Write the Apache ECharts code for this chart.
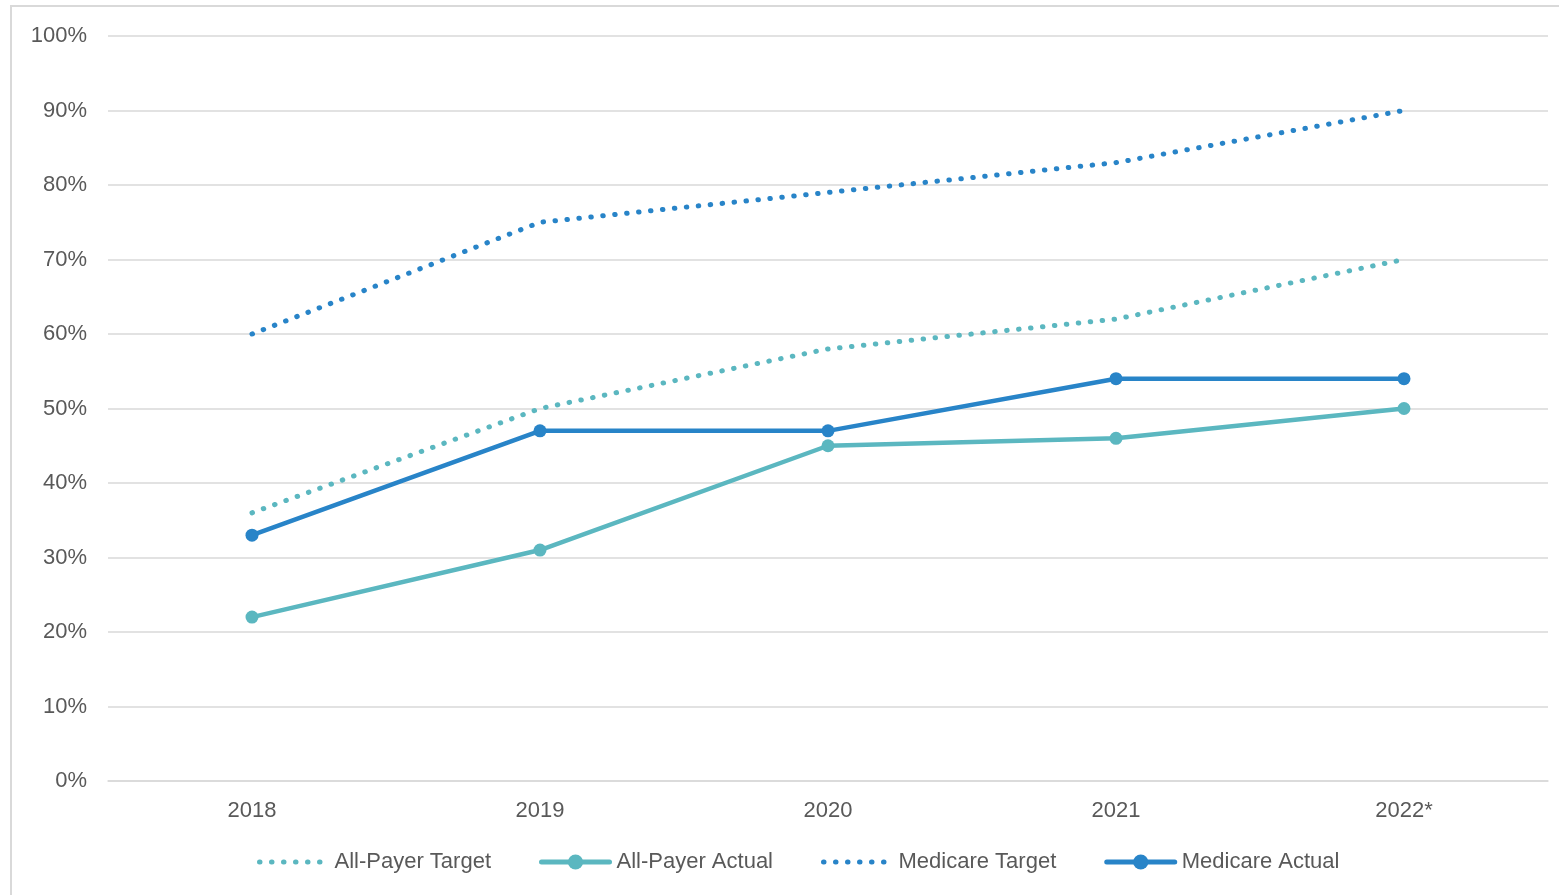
<!DOCTYPE html>
<html><head><meta charset="utf-8">
<script src="https://cdn.jsdelivr.net/npm/echarts@6/dist/echarts.min.js"></script>
<style>html,body{margin:0;padding:0;background:#fff}#c{width:1559px;height:895px}</style>
</head><body><div id="c"></div>
<script>
const categories = ['2018','2019','2020','2021','2022*'];
const allPayerTarget = [36, 50, 58, 62, 70];
const allPayerActual = [22, 31, 45, 46, 50];
const medicareTarget = [60, 75, 79, 83, 90];
const medicareActual = [33, 47, 47, 54, 54];
const yTicks = [0,10,20,30,40,50,60,70,80,90,100];

const TEAL = '#5bb7c0', BLUE = '#2884c8';
const FONT = '"Liberation Sans", Arial, sans-serif';
const DOTS = [0.5, 11.5];
const chart = echarts.init(document.getElementById('c'));
function dotted(name, data, color){
  return {name, type:'line', data, symbol:'none', smooth:false,
    lineStyle:{color, width:5, type:DOTS, cap:'round'},
    itemStyle:{color}, emphasis:{disabled:true}};
}
function solid(name, data, color){
  return {name, type:'line', data, symbol:'circle', symbolSize:13,
    lineStyle:{color, width:4.5}, itemStyle:{color}, emphasis:{disabled:true}};
}
function legDot(name, color){
  return {name, itemStyle:{color:'transparent', borderWidth:0},
    lineStyle:{color, width:5, type:DOTS, cap:'round'}};
}
function legSolid(name, color){
  return {name, itemStyle:{color}, lineStyle:{color, width:5, cap:'round'}};
}
chart.setOption({
  animation:false,
  graphic:[{type:'rect', shape:{x:11, y:6, width:1600, height:1000},
    style:{fill:'none', stroke:'#d9d9d9', lineWidth:2}, z:-1}],
  grid:{left:108, right:11, top:36, bottom:114, containLabel:false},
  legend:{bottom:17, left:252, itemWidth:68, itemHeight:19, itemGap:48,
    textStyle:{fontFamily:FONT, fontSize:22, color:'#595959', padding:[0,0,0,2]},
    data:[legDot('All-Payer Target', TEAL), legSolid('All-Payer Actual', TEAL),
          legDot('Medicare Target', BLUE), legSolid('Medicare Actual', BLUE)]},
  xAxis:{type:'category', data:categories, boundaryGap:true,
    axisLine:{show:true, lineStyle:{color:'#d9d9d9', width:1.5}},
    axisTick:{show:false},
    axisLabel:{fontFamily:FONT, fontSize:22, color:'#595959', margin:19}},
  yAxis:{type:'value', min:0, max:100, interval:10,
    axisLine:{show:false}, axisTick:{show:false},
    splitLine:{lineStyle:{color:'#d9d9d9', width:1.5}},
    axisLabel:{fontFamily:FONT, fontSize:22, color:'#595959', margin:21,
      formatter:v => yTicks.includes(v) ? v + '%' : ''}},
  series:[
    dotted('All-Payer Target', allPayerTarget, TEAL),
    solid('All-Payer Actual', allPayerActual, TEAL),
    dotted('Medicare Target', medicareTarget, BLUE),
    solid('Medicare Actual', medicareActual, BLUE)
  ]
});
</script></body></html>
